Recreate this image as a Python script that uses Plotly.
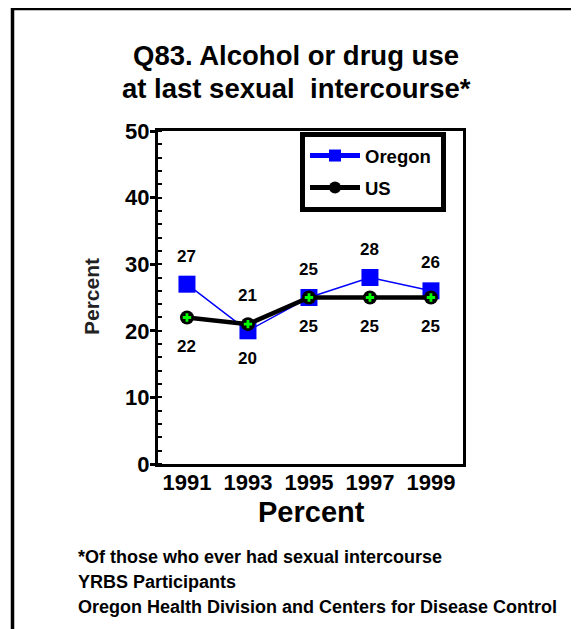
import plotly.graph_objects as go

years = [1991, 1993, 1995, 1997, 1999]
oregon = [27, 20, 25, 28, 26]
us = [22, 21, 25, 25, 25]
# label placement: +1 above, -1 below
oregon_pos = [1, -1, 1, 1, 1]
us_pos = [-1, 1, -1, -1, -1]

FONT = "Liberation Sans, Arial, sans-serif"
OFF = 8  # page body margin
W, H = 579 - OFF, 629 - OFF
L, T = 158 - OFF, 131 - OFF
R, B = 579 - 463, 629 - 464
pw, ph = W - L - R, H - T - B

def px_x(p):
    return (p - OFF - L) / pw

def px_y(p):
    return (H - B - (p - OFF)) / ph

fig = go.Figure()
fig.add_trace(go.Scatter(
    x=years, y=oregon, name="<b>Oregon</b>&nbsp;", mode="lines+markers",
    legendgroup="o",
    line=dict(color="#0000ff", width=1.5),
    marker=dict(symbol="square", size=17, color="#0000ff"),
))
fig.add_trace(go.Scatter(
    x=years, y=us, name="<b>US</b>", mode="lines+markers",
    legendgroup="u",
    line=dict(color="black", width=4.5),
    marker=dict(symbol="circle", size=14, color="black"),
))
fig.add_trace(go.Scatter(
    x=years, y=us, mode="markers", showlegend=False, hoverinfo="skip",
    legendgroup="u",
    marker=dict(symbol="cross", size=7, color="#00ff00", line=dict(width=0)),
))

annotations = []
lab_font = dict(size=17, family=FONT, color="black")
for x, v, p in zip(years, oregon, oregon_pos):
    annotations.append(dict(x=x, y=v, text=f"<b>{v}</b>", showarrow=False,
                            yshift=28 * p, font=lab_font))
for x, v, p in zip(years, us, us_pos):
    annotations.append(dict(x=x, y=v, text=f"<b>{v}</b>", showarrow=False,
                            yshift=29 * p, font=lab_font))

title_font = dict(size=27.5, family=FONT, color="black")
annotations.append(dict(xref="paper", yref="paper", x=px_x(296), y=px_y(55),
                        text="<b>Q83. Alcohol or drug use</b>", showarrow=False,
                        xanchor="center", yanchor="middle", font=title_font))
annotations.append(dict(xref="paper", yref="paper", x=px_x(296), y=px_y(89),
                        text="<b>at last sexual  intercourse*</b>", showarrow=False,
                        xanchor="center", yanchor="middle", font=title_font))
annotations.append(dict(xref="paper", yref="paper", x=px_x(91), y=px_y(297),
                        text="<b>Percent</b>", showarrow=False, textangle=-90,
                        xanchor="center", yanchor="middle",
                        font=dict(size=21, family=FONT, color="#222222")))
annotations.append(dict(xref="paper", yref="paper", x=px_x(311), y=px_y(512),
                        text="<b>Percent</b>", showarrow=False,
                        xanchor="center", yanchor="middle",
                        font=dict(size=29, family=FONT, color="black")))
for txt, yy in [("*Of those who ever had sexual intercourse", 557),
                ("YRBS Participants", 582),
                ("Oregon Health Division and Centers for Disease Control", 607)]:
    annotations.append(dict(xref="paper", yref="paper", x=px_x(76), y=px_y(yy),
                            text=f"<b>{txt}</b>", showarrow=False,
                            xanchor="left", yanchor="middle",
                            font=dict(size=18, family=FONT, color="black")))

tick_font = dict(size=22, family=FONT, color="black")
fig.update_layout(
    width=W, height=H,
    margin=dict(l=L, r=R, t=T, b=B, pad=0),
    paper_bgcolor="white", plot_bgcolor="white",
    showlegend=True,
    legend=dict(x=px_x(300), y=px_y(132), xanchor="left", yanchor="top",
                bordercolor="black", borderwidth=5, bgcolor="white",
                font=dict(size=18.5, family=FONT, color="black"),
                itemwidth=50, tracegroupgap=5, itemsizing="constant"),
    annotations=annotations,
    shapes=[dict(type="rect", xref="paper", yref="paper",
                 x0=px_x(12.5), x1=px_x(620), y0=px_y(8.5), y1=px_y(680),
                 line=dict(color="black", width=3.5), fillcolor="rgba(0,0,0,0)",
                 layer="below")],
    xaxis=dict(range=[1990.05, 2000.05], tickvals=years,
               ticktext=[f"<b>{y}</b>" for y in years],
               showgrid=False, zeroline=False, showline=True, mirror=True,
               linecolor="black", linewidth=3, ticks="",
               ticklabelstandoff=-3,
               tickfont=tick_font),
    yaxis=dict(range=[0, 50], tickvals=[0, 10, 20, 30, 40, 50],
               ticktext=[f"<b>{v}</b>" for v in [0, 10, 20, 30, 40, 50]],
               showgrid=False, zeroline=False, showline=True, mirror=True,
               linecolor="black", linewidth=3, ticks="outside", ticklen=5,
               tickwidth=2.5, tickcolor="black",
               ticklabelstandoff=-4,
               tickfont=tick_font,
               minor=dict(dtick=2, ticks="inside", ticklen=4, tickwidth=2,
                          tickcolor="black", showgrid=False)),
)

fig.write_html("out.html")
